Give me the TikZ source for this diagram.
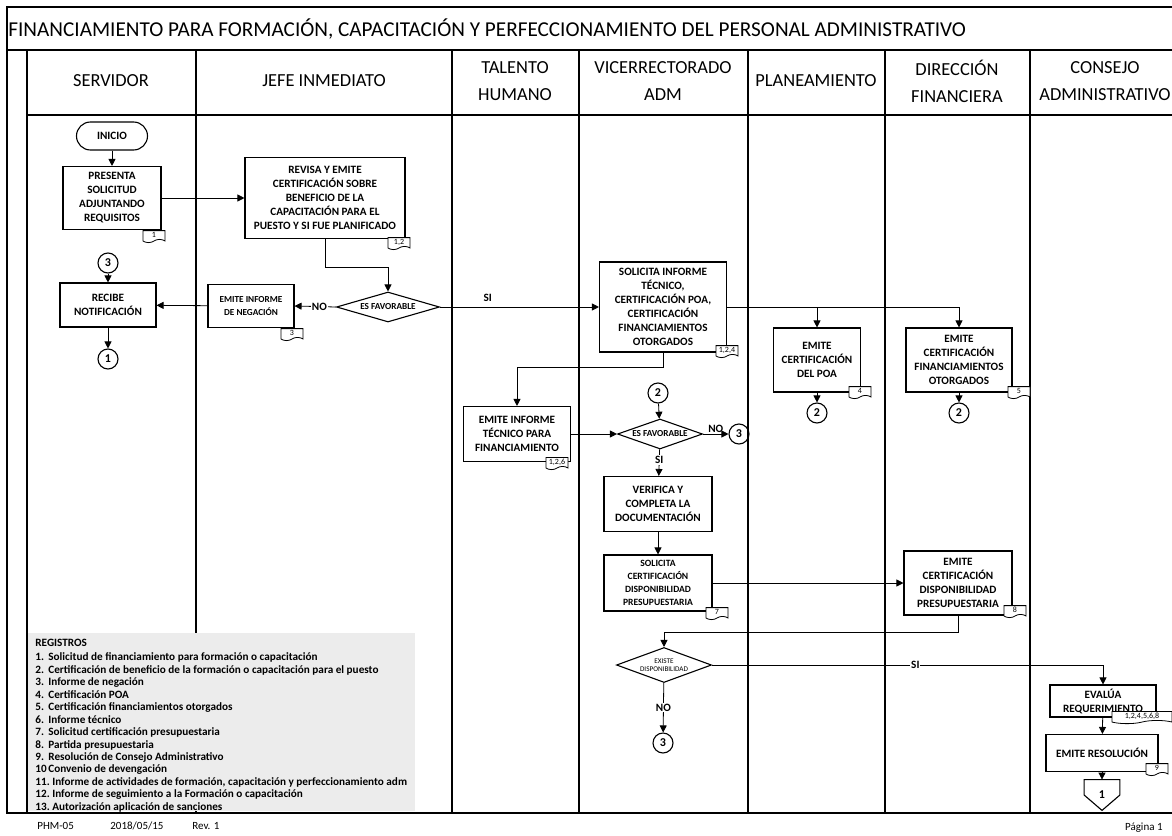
\documentclass[tikz,border=0pt]{standalone}
\usepackage{fontspec}
\setmainfont{Carlito}
\usetikzlibrary{arrows.meta,shapes.geometric,shapes.symbols}

\begin{document}
\begin{tikzpicture}[x=0.5pt,y=-0.5pt,
  boxfont/.style={font=\bfseries\fontsize{5.6}{7}\selectfont},
  proc/.style={draw,line width=0.55pt,boxfont,align=center,inner sep=0.5pt},
  term/.style={proc,rounded corners=7pt},
  decision/.style={draw,line width=0.55pt,diamond,inner sep=0pt,align=center,font=\bfseries\fontsize{4.6}{5}\selectfont},
  conn/.style={draw,line width=0.55pt,circle,minimum size=10pt,inner sep=0pt,font=\bfseries\fontsize{6}{6}\selectfont},
  offpage/.style={minimum width=17.5pt,minimum height=15pt,inner sep=0pt,font=\bfseries\fontsize{6}{6}\selectfont},
  tag/.style={draw,fill=white,tape,tape bend top=none,tape bend height=1.6pt,minimum width=11pt,minimum height=6pt,inner sep=0.6pt,font=\fontsize{4}{4.5}\selectfont},
  arr/.style={-{Triangle[length=3.5pt,width=3.5pt]}},
  lbl/.style={inner sep=0.5pt,font=\bfseries\fontsize{5.6}{6}\selectfont},
  lane/.style={align=center,font=\fontsize{9.2}{13.5}\selectfont},
  reg/.style={anchor=west,inner sep=0pt,font=\bfseries\fontsize{5.6}{6.25}\selectfont},
  foot/.style={inner sep=0pt,font=\fontsize{5.5}{6}\selectfont}]
  \useasboundingbox (0,0) rectangle (1172,835);

  % frame and lanes
  \draw[line width=0.6pt] (1172,7) -- (7,7) -- (7,813) -- (1172,813);
  \draw[line width=0.6pt] (7,50) -- (1172,50);
  \draw[line width=0.6pt] (27,115) -- (1172,115);
  \foreach \x in {27,196,452,579,748,885,1030}
    \draw[line width=0.6pt] (\x,50) -- (\x,813);
  \node[anchor=west,inner sep=0pt,font=\fontsize{10.6}{12}\selectfont] (title) at (8,29)
    {FINANCIAMIENTO PARA FORMACIÓN, CAPACITACIÓN Y PERFECCIONAMIENTO DEL PERSONAL ADMINISTRATIVO};
  \foreach \x/\t [count=\i] in {111/SERVIDOR, 324/JEFE INMEDIATO, 515/TALENTO\\HUMANO,
      663/VICERRECTORADO\\ADM, 816/PLANEAMIENTO, 957/DIRECCIÓN\\FINANCIERA, 1105/CONSEJO\\ADMINISTRATIVO}
    \node[lane] (lane\i) at (\x,81) {\t};

  % registros
  \fill[gray!15] (28,633) rectangle (415,811);
  \node[reg] (registros) at (35,643) {REGISTROS};
  \foreach \n/\t [count=\i] in {1./Solicitud de financiamiento para formación o capacitación,
      2./Certificación de beneficio de la formación o capacitación para el puesto,
      3./Informe de negación, 4./Certificación POA, 5./Certificación financiamientos otorgados,
      6./Informe técnico, 7./Solicitud certificación presupuestaria, 8./Partida presupuestaria,
      9./Resolución de Consejo Administrativo, 10/Convenio de devengación,
      11./{Informe de actividades de formación, capacitación y perfeccionamiento adm},
      12./Informe de seguimiento a la Formación o capacitación, 13./Autorización aplicación de sanciones}
    \node[reg] (reg\i) at (35,{645+12.5*\i})
      {\ifnum\i<11 \makebox[6.5pt][l]{\n}\else\n\ \fi\t};

  % footer
  \node[foot,anchor=west] (code) at (37,826) {PHM-05};
  \node[foot,anchor=west] (date) at (110,826) {2018/05/15};
  \node[foot,anchor=west] (rev) at (192,826) {Rev. 1};
  \node[foot,anchor=east] (page) at (1163,828) {Página 1};

  % servidor / jefe inmediato
  \node[term,minimum width=35.5pt,minimum height=14pt] (inicio) at (112,136) {INICIO};
  \node[proc,minimum width=49pt,minimum height=31.5pt] (presenta) at (112,198)
    {PRESENTA\\SOLICITUD\\ADJUNTANDO\\REQUISITOS};
  \node[proc,minimum width=80pt,minimum height=40.5pt] (revisa) at (325,198)
    {REVISA Y EMITE\\CERTIFICACIÓN SOBRE\\BENEFICIO DE LA\\CAPACITACIÓN PARA EL\\PUESTO Y SI FUE PLANIFICADO};
  \node[decision,aspect=3.4,minimum width=51.5pt,minimum height=15pt] (fav1) at (388,307) {ES FAVORABLE};
  \node[proc,minimum width=43pt,minimum height=21.5pt,font=\bfseries\fontsize{4.6}{6.5}\selectfont] (negacion) at (251,306)
    {EMITE INFORME\\DE NEGACIÓN};
  \node[proc,minimum width=48pt,minimum height=22pt] (recibe) at (108,305) {RECIBE\\NOTIFICACIÓN};
  \node[conn] (c3a) at (108,263) {3};
  \node[conn] (c1) at (108,359) {1};

  % vicerrectorado, planeamiento, financiera
  \node[proc,minimum width=63.5pt,minimum height=45pt] (solicita) at (663,307)
    {SOLICITA INFORME\\TÉCNICO,\\CERTIFICACIÓN POA,\\CERTIFICACIÓN\\FINANCIAMIENTOS\\OTORGADOS};
  \node[proc,minimum width=43.5pt,minimum height=32pt] (poa) at (817,360) {EMITE\\CERTIFICACIÓN\\DEL POA};
  \node[proc,minimum width=53pt,minimum height=32pt] (financ) at (959,360)
    {EMITE\\CERTIFICACIÓN\\FINANCIAMIENTOS\\OTORGADOS};
  \node[conn] (c2a) at (817,413) {2};
  \node[conn] (c2b) at (959,413) {2};
  \node[proc,minimum width=53.5pt,minimum height=27.5pt] (tecnico) at (517,434)
    {EMITE INFORME\\TÉCNICO PARA\\FINANCIAMIENTO};
  \node[decision,aspect=2.8,minimum width=42.5pt,minimum height=15pt] (fav2) at (660,434) {ES FAVORABLE};
  \node[conn] (c2c) at (658,393) {2};
  \node[conn] (c3b) at (739,434) {3};
  \node[proc,minimum width=54pt,minimum height=27.5pt] (verifica) at (658,504)
    {VERIFICA Y\\COMPLETA LA\\DOCUMENTACIÓN};
  \node[proc,minimum width=54pt,minimum height=28pt,font=\bfseries\fontsize{4.8}{6.5}\selectfont] (solcert) at (658,583)
    {SOLICITA\\CERTIFICACIÓN\\DISPONIBILIDAD\\PRESUPUESTARIA};
  \node[proc,minimum width=54pt,minimum height=32pt] (emitdisp) at (958,583)
    {EMITE\\CERTIFICACIÓN\\DISPONIBILIDAD\\PRESUPUESTARIA};
  \node[decision,aspect=2.7,minimum width=47.5pt,minimum height=17.5pt,font=\fontsize{3.6}{4.2}\selectfont] (fav3) at (664,665)
    {EXISTE\\DISPONIBILIDAD};
  \node[conn] (c3c) at (663,743) {3};

  % consejo administrativo
  \node[proc,minimum width=53pt,minimum height=16pt] (evalua) at (1103,701) {EVALÚA\\REQUERIMIENTO};
  \node[proc,minimum width=56pt,minimum height=18.5pt] (resol) at (1102,753) {EMITE RESOLUCIÓN};
  \node[offpage] (op1) at (1102,795) {1};
  \draw[line width=0.55pt] (op1.north west) -- (op1.north east) -- (op1.east)
    -- (op1.south) -- (op1.west) -- cycle;

  % document tags
  \foreach \p/\n in {{154,235}/1, {399,242}/{1,2}, {292,333}/3, {727,350}/{1,2,4}, {860,391}/4,
      {1019,391}/5, {557,462}/{1,2,6}, {717,612}/7, {1015,610}/8, {1157,768}/9}
    \node[tag] at (\p) {\n};
  \node[tag,minimum width=30pt] at (1142,716) {1,2,4,5,6,8};

  % connectors
  \draw[arr] (inicio) -- (presenta);
  \draw[arr] (presenta) -- (revisa);
  \draw[arr] (revisa.south) -- ++(0,28) -| (fav1.north);
  \draw[arr] (fav1.west) -- (negacion.east) node[lbl,pos=0.4,fill=white] {NO};
  \draw[arr] (negacion) -- (recibe);
  \draw[arr] (c3a) -- (recibe);
  \draw[arr] (recibe) -- (c1);
  \draw[arr] (fav1.east) -- (solicita.west) node[lbl,pos=0.3,above=2pt] {SI};
  \draw[arr] (solicita.east) -| (poa.north);
  \draw[arr] (solicita.east) -| (financ.north);
  \draw[arr] (poa) -- (c2a);
  \draw[arr] (financ) -- (c2b);
  \draw[arr] (solicita.south) -- ++(0,15) -| (tecnico.north);
  \draw[arr] (tecnico) -- (fav2);
  \draw[arr] (c2c) -- (fav2);
  \draw[arr] (fav2) -- (c3b) node[lbl,midway,above] {NO};
  \draw[arr] (fav2) -- (verifica) node[lbl,pos=0.4,fill=white] {SI};
  \draw[arr] (verifica) -- (solcert);
  \draw[arr] (solcert) -- (emitdisp);
  \draw[arr] (emitdisp.south) -- ++(0,17) -| (fav3.north);
  \draw[arr] (fav3) -- (c3c) node[lbl,midway,fill=white] {NO};
  \draw[arr] (fav3.east) -| (evalua.north) node[lbl,pos=0.26,fill=white] {SI};
  \draw[arr] (evalua) -- (resol);
  \draw[arr] (resol) -- (op1.north);
\end{tikzpicture}
\end{document}
